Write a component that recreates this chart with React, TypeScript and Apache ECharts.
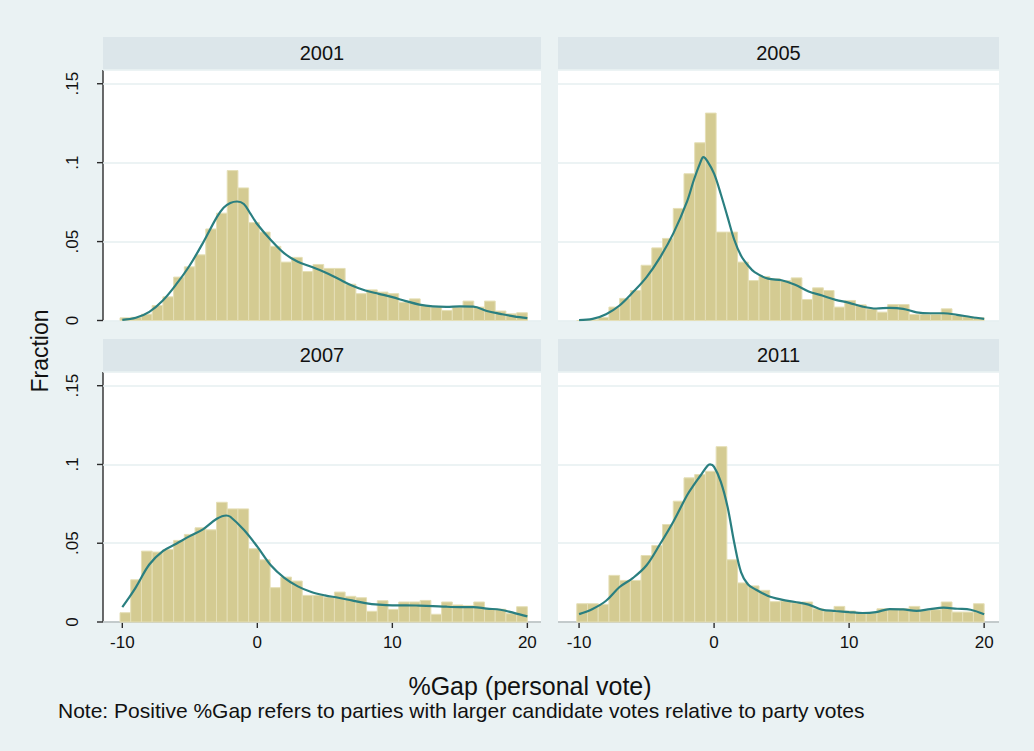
import React, { useEffect, useRef } from "react";
import * as echarts from "echarts";

// Histogram bins: 38 equal-width bins of %Gap
const BIN_START = -10.17;
const BIN_END = 20.0;
const BIN_COUNT = 38;

const YEARS = ["2001", "2005", "2007", "2011"];

// Fraction of parties in each bin
const FRACTION_2001 = [
  0.0017, 0.002, 0.004, 0.0095, 0.015, 0.0275, 0.034, 0.0416, 0.058, 0.068,
  0.095, 0.084, 0.062, 0.056, 0.047, 0.037, 0.04, 0.031, 0.0355, 0.033,
  0.033, 0.023, 0.017, 0.0194, 0.018, 0.017, 0.0116, 0.0137, 0.0095, 0.0085,
  0.0063, 0.0085, 0.0123, 0.0085, 0.0123, 0.006, 0.0042, 0.0049,
];
const FRACTION_2005 = [
  0, 0.0005, 0.002, 0.0085, 0.014, 0.019, 0.035, 0.046, 0.052, 0.071,
  0.093, 0.1126, 0.1314, 0.056, 0.056, 0.037, 0.0253, 0.0279, 0.0264, 0.0253,
  0.027, 0.0133, 0.0207, 0.019, 0.0085, 0.0127, 0.0099, 0.0074, 0.0053, 0.0101,
  0.0101, 0.0038, 0.0038, 0.0038, 0.0074, 0.0032, 0.0025, 0.0017,
];
const FRACTION_2007 = [
  0.0059, 0.0268, 0.045, 0.0444, 0.046, 0.0518, 0.0556, 0.0598, 0.0585, 0.076,
  0.0718, 0.0718, 0.0465, 0.0395, 0.0218, 0.0285, 0.026, 0.0169, 0.0169, 0.0158,
  0.019, 0.0163, 0.0154, 0.0068, 0.0135, 0.008, 0.0127, 0.0127, 0.0137, 0.0049,
  0.0127, 0.0108, 0.0103, 0.0127, 0.0084, 0.0081, 0.0053, 0.0097,
];
const FRACTION_2011 = [
  0.0116, 0.0116, 0.0112, 0.0296, 0.0264, 0.0264, 0.0422, 0.0486, 0.0619, 0.0767,
  0.0915, 0.0936, 0.0957, 0.1113, 0.0395, 0.0248, 0.0229, 0.0201, 0.0129, 0.0134,
  0.0122, 0.0127, 0.0084, 0.007, 0.0099, 0.007, 0.0057, 0.0057, 0.0084, 0.0084,
  0.0084, 0.0099, 0.0074, 0.0078, 0.0127, 0.0063, 0.0063, 0.0116,
];

// Kernel density overlay, [%Gap, fraction]
const DENSITY_2001: [number, number][] = [
  [-10, 0.0004], [-9, 0.0017], [-8, 0.0055], [-7, 0.0127], [-6, 0.023],
  [-5, 0.035], [-4, 0.0496], [-3, 0.0655], [-2.5, 0.0715], [-2, 0.0745],
  [-1.5, 0.0754], [-1, 0.0738], [-0.5, 0.0675], [0, 0.061], [1, 0.051],
  [2, 0.0425], [3, 0.0372], [4, 0.034], [5, 0.0306], [6, 0.0264],
  [7, 0.0222], [8, 0.019], [9, 0.0169], [10, 0.0148], [11, 0.0123],
  [12, 0.0101], [13, 0.0089], [14, 0.0086], [15, 0.0089], [16, 0.0088],
  [17, 0.006], [18, 0.0042], [19, 0.0026], [20, 0.0015],
];
const DENSITY_2005: [number, number][] = [
  [-10, 0.0002], [-9, 0.001], [-8, 0.004], [-7, 0.0095], [-6, 0.018],
  [-5, 0.0275], [-4, 0.04], [-3, 0.0555], [-2, 0.0755], [-1.5, 0.089],
  [-1, 0.1005], [-0.8, 0.1035], [-0.5, 0.101], [0, 0.093], [0.5, 0.08],
  [1, 0.0655], [1.5, 0.051], [2, 0.041], [2.5, 0.035], [3, 0.0306],
  [4, 0.0265], [5, 0.0255], [6, 0.0226], [7, 0.0184], [8, 0.0158],
  [9, 0.0131], [10, 0.0112], [11, 0.0088], [12, 0.0076], [13, 0.008],
  [14, 0.0074], [15, 0.0052], [16, 0.0046], [17, 0.0046], [18, 0.0036],
  [19, 0.0022], [20, 0.001],
];
const DENSITY_2007: [number, number][] = [
  [-10, 0.0095], [-9.5, 0.0155], [-9, 0.022], [-8, 0.0365], [-7, 0.045],
  [-6, 0.0497], [-5, 0.0545], [-4, 0.059], [-3, 0.0655], [-2.3, 0.0676],
  [-2, 0.0668], [-1, 0.0585], [0, 0.0478], [1, 0.036], [2, 0.028],
  [3, 0.0226], [4, 0.019], [5, 0.0169], [6, 0.0154], [7, 0.0137],
  [8, 0.012], [9, 0.011], [10, 0.0106], [11, 0.0106], [12, 0.0104],
  [13, 0.0101], [14, 0.0097], [15, 0.0095], [16, 0.0095], [17, 0.0085],
  [18, 0.0078], [19, 0.0058], [20, 0.0036],
];
const DENSITY_2011: [number, number][] = [
  [-10, 0.005], [-9, 0.0083], [-8, 0.0135], [-7, 0.0222], [-6, 0.028],
  [-5, 0.036], [-4, 0.0495], [-3, 0.064], [-2, 0.0805], [-1.5, 0.087],
  [-1, 0.093], [-0.5, 0.099], [-0.3, 0.1], [0, 0.0985], [0.5, 0.089],
  [1, 0.073], [1.5, 0.05], [2, 0.0315], [2.5, 0.024], [3, 0.021],
  [4, 0.0165], [5, 0.0142], [6, 0.0127], [7, 0.011], [8, 0.0078],
  [9, 0.007], [10, 0.0063], [11, 0.0057], [12, 0.0063], [13, 0.0082],
  [14, 0.008], [15, 0.007], [16, 0.0082], [17, 0.0091], [18, 0.0084],
  [19, 0.0078], [20, 0.0049],
];

const X_TICKS = [-10, 0, 10, 20];
const Y_TICKS = [0, 0.05, 0.1, 0.15];

const FRACTIONS = [FRACTION_2001, FRACTION_2005, FRACTION_2007, FRACTION_2011];
const DENSITIES = [DENSITY_2001, DENSITY_2005, DENSITY_2007, DENSITY_2011];

const FONT = '"Liberation Sans", Arial, Helvetica, sans-serif';
const PAGE_BG = "#EAF2F3";
const HEADER_BG = "#DCE6EA";
const GRID_LINE = "#E6EFF0";
const BAR_FILL = "#D4CB92";
const BAR_EDGE = "#E5DFB6";
const CURVE = "#2A7F80";
const INK = "#111111";
const AXIS = "#2b2b2b";
const AXIS_W = 1.4;
const TICK_LEN = 6;

// Panel rectangles (plot regions) and the x-axis extents that fill them
const PANELS = [
  { left: 103, top: 70, width: 438, height: 250.5, xMin: -11.43, xMax: 21.01 },
  { left: 558, top: 70, width: 441, height: 250.5, xMin: -11.56, xMax: 21.1 },
  { left: 103, top: 372, width: 438, height: 250, xMin: -11.43, xMax: 21.01 },
  { left: 558, top: 372, width: 441, height: 250, xMin: -11.56, xMax: 21.1 },
];
const Y_MAX = 0.1587;

const fmtY = (v: number) => (v === 0 ? "0" : String(v).replace(/^0/, ""));

function binRows(values: number[]) {
  const w = (BIN_END - BIN_START) / BIN_COUNT;
  return values.map((v, i) => [BIN_START + i * w, BIN_START + (i + 1) * w, v]);
}

export default function App() {
  const ref = useRef<HTMLDivElement>(null);

  useEffect(() => {
    if (!ref.current) return;
    const chart = echarts.init(ref.current, undefined, { renderer: "svg" });

    const grid = PANELS.map((p) => ({
      left: p.left,
      top: p.top,
      width: p.width,
      height: p.height,
      show: false,
    }));

    const xAxis = PANELS.map((p, i) => {
      const bottom = i >= 2;
      return {
        type: "value",
        gridIndex: i,
        position: "bottom",
        min: p.xMin,
        max: p.xMax,
        splitLine: { show: false },
        axisLine: { show: false },
        axisTick: { show: false },
        axisLabel: {
          show: bottom,
          customValues: X_TICKS,
          margin: 12,
          fontSize: 17,
          fontFamily: FONT,
          color: INK,
        },
      };
    });

    const yAxis = PANELS.map((_p, i) => {
      const leftCol = i % 2 === 0;
      return {
        type: "value",
        gridIndex: i,
        position: "left",
        min: 0,
        max: Y_MAX,
        interval: 0.05,
        splitLine: { show: true, lineStyle: { color: GRID_LINE, width: 1.5 } },
        axisLine: { show: false },
        axisTick: { show: false },
        axisLabel: {
          show: leftCol,
          customValues: Y_TICKS,
          rotate: 90,
          margin: 22,
          fontSize: 17,
          fontFamily: FONT,
          color: INK,
          formatter: fmtY,
        },
      };
    });

    const series: any[] = [];
    FRACTIONS.forEach((vals, i) => {
      series.push({
        type: "custom",
        name: `hist-${YEARS[i]}`,
        xAxisIndex: i,
        yAxisIndex: i,
        z: 2,
        data: binRows(vals),
        encode: { x: [0, 1], y: 2 },
        renderItem: (_params: any, api: any) => {
          const a = api.coord([api.value(0), api.value(2)]);
          const b = api.coord([api.value(1), 0]);
          return {
            type: "rect",
            shape: { x: a[0], y: a[1], width: b[0] - a[0], height: b[1] - a[1] },
            style: { fill: BAR_FILL, stroke: BAR_EDGE, lineWidth: 1 },
          };
        },
      });
    });
    DENSITIES.forEach((pts, i) => {
      series.push({
        type: "line",
        name: `density-${YEARS[i]}`,
        xAxisIndex: i,
        yAxisIndex: i,
        z: 4,
        data: pts,
        smooth: 0.35,
        showSymbol: false,
        symbol: "none",
        lineStyle: { color: CURVE, width: 2.2 },
      });
    });

    const centered = {
      fill: INK,
      fontFamily: FONT,
      align: "center",
      verticalAlign: "middle",
      textAlign: "center",
      textVerticalAlign: "middle",
    };

    // White plot regions, kept beneath the axes and bars
    const plotEls: any[] = PANELS.map((p) => ({
      type: "rect",
      shape: { x: p.left, y: p.top, width: p.width, height: p.height },
      style: { fill: "#ffffff" },
      silent: true,
    }));

    const headerEls: any[] = [];
    PANELS.forEach((p, i) => {
      const top = p.top - 33;
      headerEls.push({
        type: "rect",
        shape: { x: p.left, y: top, width: p.width, height: 32 },
        style: { fill: HEADER_BG },
        silent: true,
      });
      headerEls.push({
        type: "text",
        x: p.left + p.width / 2,
        y: top + 16,
        style: { ...centered, text: YEARS[i], fontSize: 20 },
        silent: true,
      });
    });

    const textEls: any[] = [
      {
        type: "text",
        x: 40,
        y: 351,
        rotation: Math.PI / 2,
        style: { ...centered, text: "Fraction", fontSize: 23 },
      },
      {
        type: "text",
        x: 530,
        y: 686,
        style: { ...centered, text: "%Gap (personal vote)", fontSize: 25 },
      },
      {
        type: "text",
        x: 58,
        y: 710,
        style: {
          ...centered,
          text: "Note: Positive %Gap refers to parties with larger candidate votes relative to party votes",
          fontSize: 21,
          align: "left",
          textAlign: "left",
        },
      },
    ];

    const baseGraphic = [
      { id: "plots", type: "group", z: -10, children: plotEls },
      { id: "labels", type: "group", children: [...headerEls, ...textEls] },
    ];

    chart.setOption({
      animation: false,
      backgroundColor: PAGE_BG,
      grid,
      xAxis,
      yAxis,
      series,
      graphic: baseGraphic,
    });

    // Axis lines and tick marks, placed through each panel's own scales
    const axisEls: any[] = [];
    const stroke = { stroke: AXIS, lineWidth: AXIS_W };
    PANELS.forEach((p, i) => {
      const px = (v: number) => chart.convertToPixel({ xAxisIndex: i }, v) as number;
      const py = (v: number) => chart.convertToPixel({ yAxisIndex: i }, v) as number;
      const xl = px(p.xMin);
      const xr = px(p.xMax);
      const yTop = py(Y_MAX);
      const yBase = py(0);
      if (i % 2 === 0) {
        axisEls.push({ type: "line", shape: { x1: xl, y1: yTop, x2: xl, y2: yBase }, style: stroke });
        Y_TICKS.forEach((v) => {
          const y = py(v);
          axisEls.push({ type: "line", shape: { x1: xl - TICK_LEN, y1: y, x2: xl, y2: y }, style: stroke });
        });
      }
      if (i >= 2) {
        axisEls.push({ type: "line", shape: { x1: xl, y1: yBase, x2: xr, y2: yBase }, style: stroke });
        X_TICKS.forEach((v) => {
          const x = px(v);
          axisEls.push({ type: "line", shape: { x1: x, y1: yBase, x2: x, y2: yBase + TICK_LEN }, style: stroke });
        });
      }
    });

    chart.setOption({
      graphic: [...baseGraphic, { id: "axes", type: "group", z: 20, children: axisEls }],
    });

    return () => chart.dispose();
  }, []);

  return (
    <div
      ref={ref}
      style={{ position: "absolute", left: 0, top: 0, width: 1034, height: 751 }}
    />
  );
}
